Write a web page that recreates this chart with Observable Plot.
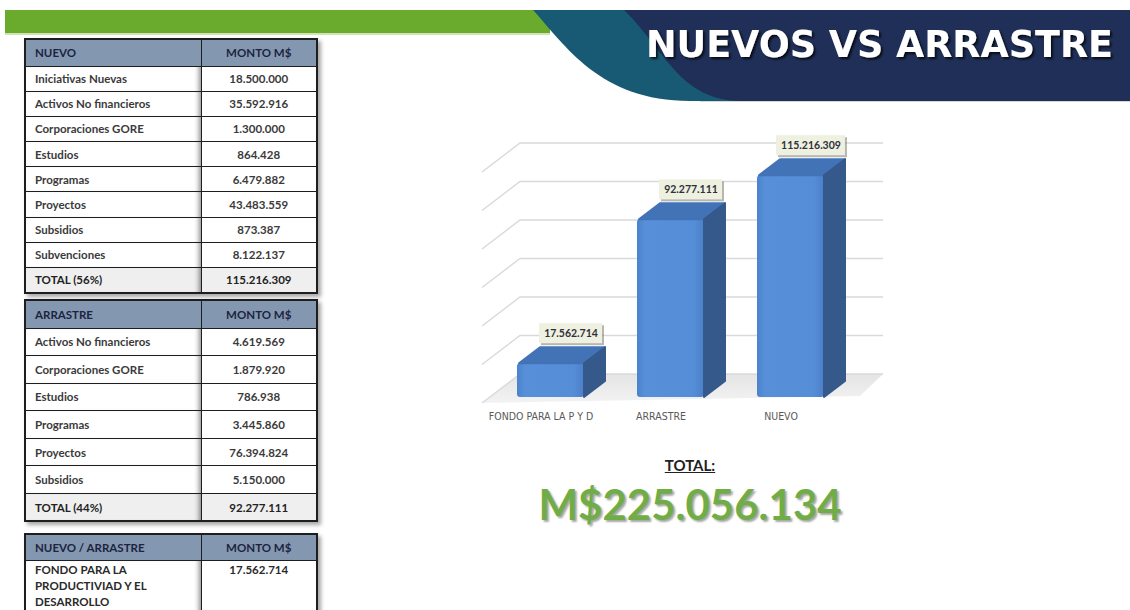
<!DOCTYPE html>
<html><head><meta charset="utf-8">
<script src="https://cdn.jsdelivr.net/npm/d3@7"></script>
<script src="https://cdn.jsdelivr.net/npm/@observablehq/plot@0.6"></script>
<style>
html,body{margin:0;padding:0}
body{width:1130px;height:610px;overflow:hidden;background:#fff;position:relative;font-family:Lato,"Noto Sans",sans-serif}
#hdr{position:absolute;left:0;top:0}
table.t{position:absolute;left:24px;width:292px;border-collapse:collapse;table-layout:fixed;
  font:bold 11.5px Lato,sans-serif;color:#3a3a3a;border:2px solid #1e1e1e;box-shadow:3px 3px 4px rgba(0,0,0,.35)}
table.t td,table.t th{border:1px solid #1e1e1e;padding:0 0 0 9px;white-space:nowrap;overflow:hidden}
table.t th{background:#8497b0;color:#1c2440;text-align:left;font-weight:bold}
table.t th.m,table.t td.v{text-align:center;padding:0}
table.t td.c1{box-shadow:inset -6px 0 5px -4px rgba(0,0,0,.45)}
table.t tr.tot td{background:#efefef;color:#222}
table.t td.wrap{white-space:normal;vertical-align:top;padding-top:1px;line-height:16px;color:#2a2a2a}
table.t td.wrap span{display:block;width:118px}
table.t td.vt{vertical-align:top;padding-top:1px;line-height:16px;color:#2a2a2a}
#chart{position:absolute;left:460px;top:120px}
#totLabel{position:absolute;left:590px;width:200px;top:458px;text-align:center;font:bold 15px/15px Lato,sans-serif;color:#222;text-decoration:underline}
#totValue{position:absolute;left:440px;width:500px;top:483px;text-align:center;font:bold 42px/42px Lato,sans-serif;color:#70ad47;text-shadow:2px 2px 2px rgba(0,0,0,.35)}
</style></head><body>
<svg id="hdr" width="1130" height="112">
  <defs>
    <filter id="ts" x="-5%" y="-20%" width="110%" height="150%">
      <feDropShadow dx="2" dy="2" stdDeviation="1.2" flood-color="#000" flood-opacity="0.75"/>
    </filter>
  </defs>
  <rect x="5" y="10" width="545" height="24" fill="#6aaa2d"/>
  <rect x="5" y="33" width="545" height="2" fill="#cfe3b4"/>
  <rect x="700" y="100" width="430" height="2" fill="#d6d6d6"/>
  <path d="M533,10 C565,45 600,101 690,101 L1130,101 L1130,10 Z" fill="#185a73"/>
  <path d="M624,10 C665,50 680,101 742,101 L1130,101 L1130,10 Z" fill="#1f2f57"/>
  <text x="646" y="57" font-family="DejaVu Sans" font-weight="bold" font-size="36.5" fill="#fff" filter="url(#ts)">NUEVOS VS ARRASTRE</text>
</svg>
<div id="tables"></div>
<div id="chart"></div>
<div id="totLabel">TOTAL:</div>
<div id="totValue"></div>
<script>
// ---- data ----
const nuevoHeader = ["NUEVO", "MONTO M$"];
const nuevoItems = ["Iniciativas Nuevas", "Activos No financieros", "Corporaciones GORE", "Estudios", "Programas", "Proyectos", "Subsidios", "Subvenciones"];
const nuevoMontos = [18500000, 35592916, 1300000, 864428, 6479882, 43483559, 873387, 8122137];
const nuevoTotalLabel = "TOTAL (56%)";
const nuevoTotal = 115216309;

const arrastreHeader = ["ARRASTRE", "MONTO M$"];
const arrastreItems = ["Activos No financieros", "Corporaciones GORE", "Estudios", "Programas", "Proyectos", "Subsidios"];
const arrastreMontos = [4619569, 1879920, 786938, 3445860, 76394824, 5150000];
const arrastreTotalLabel = "TOTAL (44%)";
const arrastreTotal = 92277111;

const fondoHeader = ["NUEVO / ARRASTRE", "MONTO M$"];
const fondoItem = "FONDO PARA LA PRODUCTIVIAD Y EL DESARROLLO";
const fondoMonto = 17562714;

const categories = ["FONDO PARA LA P Y D", "ARRASTRE", "NUEVO"];
const barValues = [17562714, 92277111, 115216309];
const gridValues = [0, 20000000, 40000000, 60000000, 80000000, 100000000, 120000000];
const grandTotal = 225056134;

// ---- formatting ----
const loc = d3.formatLocale({decimal: ",", thousands: ".", grouping: [3], currency: ["M$", ""]});
const fmt = loc.format(",d");

// ---- tables ----
function buildTable(top, headH, rowH, header, items, montos, totLabel, total) {
  let h = `<table class="t" style="top:${top}px"><colgroup><col style="width:176px"><col style="width:116px"></colgroup>`;
  h += `<tr style="height:${headH}px"><th>${header[0]}</th><th class="m">${header[1]}</th></tr>`;
  items.forEach((it, i) => {
    h += `<tr style="height:${rowH}px"><td class="c1">${it}</td><td class="v">${fmt(montos[i])}</td></tr>`;
  });
  h += `<tr class="tot" style="height:${rowH}px"><td class="c1">${totLabel}</td><td class="v">${fmt(total)}</td></tr>`;
  return h + `</table>`;
}
let th = buildTable(38, 27, 25.2, nuevoHeader, nuevoItems, nuevoMontos, nuevoTotalLabel, nuevoTotal);
th += buildTable(299, 28, 27.6, arrastreHeader, arrastreItems, arrastreMontos, arrastreTotalLabel, arrastreTotal);
th += `<table class="t" style="top:533px"><colgroup><col style="width:176px"><col style="width:116px"></colgroup>
  <tr style="height:26px"><th>${fondoHeader[0]}</th><th class="m">${fondoHeader[1]}</th></tr>
  <tr style="height:70px"><td class="c1 wrap"><span>${fondoItem}</span></td><td class="v vt">${fmt(fondoMonto)}</td></tr></table>`;
document.getElementById("tables").innerHTML = th;

document.getElementById("totValue").textContent = loc.format("$,d")(grandTotal);

// ---- chart ----
const data = categories.map((c, i) => ({cat: c, value: barValues[i], label: fmt(barValues[i])}));
const WALL = {dxL: 38, dxR: 23, dy: -23, dropL: 29, dropR: 22};
const BAR = {dx: 21, dy: -16};
const LABEL = {dx: 20, dy: -30};

function renderWall(index, scales, values, dims) {
  const xL = dims.marginLeft, xR = dims.width - dims.marginRight;
  const g = d3.create("svg:g");
  const defs = g.append("defs");
  const lg = defs.append("linearGradient").attr("id", "floorGrad").attr("x1", 0).attr("x2", 0).attr("y1", 0).attr("y2", 1);
  lg.append("stop").attr("offset", 0).attr("stop-color", "#e4e4e4");
  lg.append("stop").attr("offset", 1).attr("stop-color", "#f3f3f3");
  const yb0 = scales.y(0) + WALL.dy;
  const fl = [xL, yb0 + WALL.dropL], bl = [xL + WALL.dxL, yb0], br = [xR + WALL.dxR, yb0], fr = [xR, yb0 + WALL.dropR];
  g.append("path").attr("d", `M${fl}L${bl}L${br}L${fr}Z`).attr("fill", "url(#floorGrad)");
  for (const i of index) {
    const y = values.y[i] + WALL.dy;
    g.append("path")
      .attr("d", `M${xL},${y + WALL.dropL}L${xL + WALL.dxL},${y}L${xR + WALL.dxR},${y}`)
      .attr("fill", "none").attr("stroke", "#d9d9d9").attr("stroke-width", 1.4);
  }
  return g.node();
}

function renderBars(index, scales, values, dims, ctx, next) {
  const g = next(index, scales, values, dims, ctx);
  const sel = d3.select(g);
  const defs = sel.insert("defs", ":first-child");
  const fg = defs.append("linearGradient").attr("id", "frontGrad").attr("x1", 0).attr("x2", 1).attr("y1", 0).attr("y2", 0);
  fg.append("stop").attr("offset", 0).attr("stop-color", "#4a82cc");
  fg.append("stop").attr("offset", 0.12).attr("stop-color", "#578fd8");
  fg.append("stop").attr("offset", 0.85).attr("stop-color", "#558dd6");
  fg.append("stop").attr("offset", 1).attr("stop-color", "#4a80c8");
  const rects = Array.from(g.querySelectorAll("rect"));
  rects.forEach((r, k) => {
    const i = index[k];
    const x = +r.getAttribute("x"), y = +r.getAttribute("y"), w = +r.getAttribute("width"), h = +r.getAttribute("height");
    r.setAttribute("fill", "url(#frontGrad)");
    sel.append("path")
      .attr("d", `M${x + 2},${y}L${x + BAR.dx + 2},${y + BAR.dy}L${x + w + BAR.dx},${y + BAR.dy}L${x + w},${y}Z`)
      .attr("fill", "#4273b6").attr("stroke", "#4273b6").attr("stroke-linejoin", "round").attr("stroke-width", 2);
    sel.append("path")
      .attr("d", `M${x + w},${y}L${x + w + BAR.dx},${y + BAR.dy}L${x + w + BAR.dx},${y + h + BAR.dy}L${x + w},${y + h}Z`)
      .attr("fill", "#36598b").attr("stroke", "#36598b").attr("stroke-linejoin", "round").attr("stroke-width", 2);
    // label box
    const bw = data[i].label.length * 5.9 + 4, bh = 20;
    const cx = x + w / 2 + LABEL.dx, cy = y + LABEL.dy;
    sel.append("rect").attr("x", cx - bw / 2 + 2).attr("y", cy - bh / 2 + 2).attr("width", bw).attr("height", bh)
      .attr("fill", "#7a7a72").attr("opacity", 0.55);
    sel.append("rect").attr("x", cx - bw / 2).attr("y", cy - bh / 2).attr("width", bw).attr("height", bh)
      .attr("fill", "#eef0e0");
  });
  return g;
}

const chart = Plot.plot({
  width: 440, height: 320,
  marginLeft: 22, marginRight: 40, marginTop: 46, marginBottom: 43,
  style: {background: "transparent", overflow: "visible", fontFamily: "Lato, sans-serif"},
  x: {domain: categories, paddingInner: 0.44, paddingOuter: 0.295},
  y: {domain: [0, 120000000], axis: null},
  marks: [
    Plot.ruleY(gridValues, {y: d => d, render: renderWall}),
    Plot.barY(data, {x: "cat", y: "value", fill: "#558ed5", rx: 3, render: renderBars}),
    Plot.text(data, {x: "cat", y: "value", text: "label", dx: LABEL.dx, dy: LABEL.dy,
      fontFamily: "Lato, sans-serif", fontWeight: "bold", fontSize: 10.5, fill: "#30303c"}),
    Plot.axisX({tickSize: 0, tickPadding: 15, dx: -10, fontFamily: "'Liberation Sans Narrow', 'Arial Narrow', 'DejaVu Sans Condensed', sans-serif",
      fontSize: 10.5, fill: "#595959", label: null})
  ]
});
document.getElementById("chart").appendChild(chart);
</script>
</body></html>
